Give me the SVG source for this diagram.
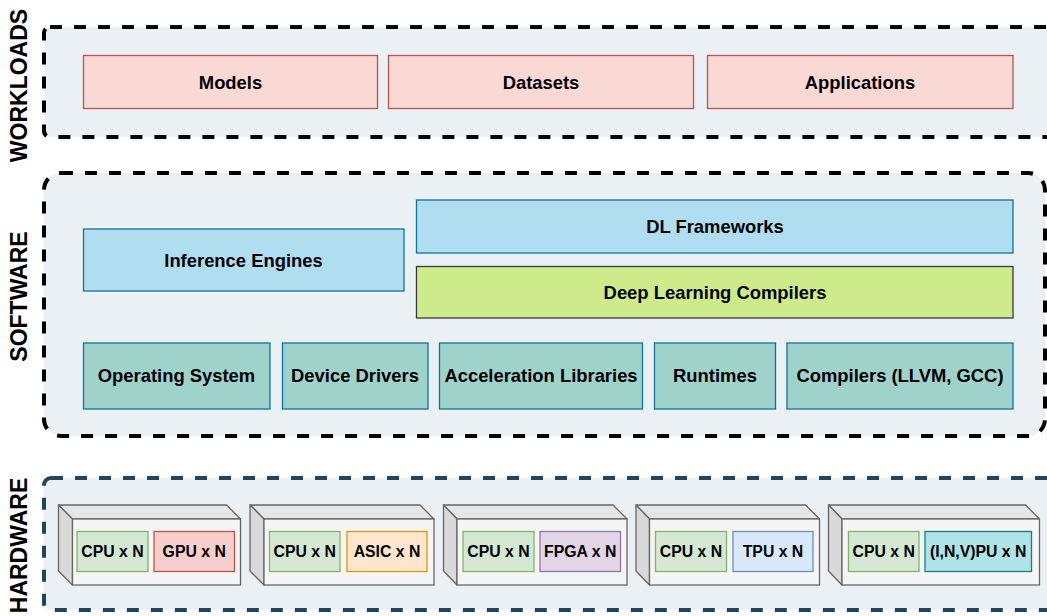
<svg xmlns="http://www.w3.org/2000/svg" width="1047" height="616" viewBox="0 0 1047 616">
  <style>
    text { font-family: "Liberation Sans", Arial, sans-serif; font-weight: bold; fill: #000; }
    .layer { fill: #ebf0f5; stroke: #000; stroke-width: 4; stroke-dasharray: 12 12; }
    .layer-hw { fill: #ebf0f5; stroke: #23445d; stroke-width: 4; stroke-dasharray: 12 12; }
    .title { font-size: 23px; text-anchor: middle; }
    .lbl { font-size: 18.4px; text-anchor: middle; }
    .hwl { font-size: 15.8px; text-anchor: middle; }
    .red { fill: #fad9d5; stroke: #b85450; stroke-width: 1.3; }
    .blue { fill: #b1ddf0; stroke: #10739e; stroke-width: 1.3; }
    .lime { fill: #cdeb8b; stroke: #36393d; stroke-width: 1.3; }
    .teal { fill: #a0d2cc; stroke: #10739e; stroke-width: 1.3; }
    .cube-front { fill: #f5f5f5; stroke: #666; stroke-width: 1.3; }
    .cube-top { fill: #e6e6e6; stroke: #666; stroke-width: 1.3; stroke-linejoin: round; }
    .cube-side { fill: #d9d9d9; stroke: #666; stroke-width: 1.3; stroke-linejoin: round; }
    .cpu { fill: #d5e8d4; stroke: #82b366; stroke-width: 1.3; }
    .gpu { fill: #f8cecc; stroke: #b85450; stroke-width: 1.3; }
    .asic { fill: #ffe6cc; stroke: #d79b00; stroke-width: 1.3; }
    .fpga { fill: #e1d5e7; stroke: #9673a6; stroke-width: 1.3; }
    .tpu { fill: #dae8fc; stroke: #6c8ebf; stroke-width: 1.3; }
    .xpu { fill: #b0e3e6; stroke: #0e8088; stroke-width: 1.3; }
  </style>

  <!-- Layer containers -->
  <g id="layer-workloads">
    <rect class="layer" x="44" y="27" width="1020" height="110" rx="6"/>
    <text class="title" transform="translate(27,85.5) rotate(-90)">WORKLOADS</text>
  </g>
  <g id="layer-software">
    <rect class="layer" x="44" y="173" width="1001" height="263" rx="17"/>
    <text class="title" transform="translate(27,296.5) rotate(-90)">SOFTWARE</text>
  </g>
  <g id="layer-hardware">
    <rect class="layer-hw" x="44" y="478" width="1020" height="132" rx="7"/>
    <text class="title" transform="translate(27,545.5) rotate(-90)">HARDWARE</text>
  </g>

  <!-- Workloads -->
  <g id="models">
    <rect class="red" x="83.5" y="55.5" width="294" height="53"/>
    <text class="lbl" x="230.5" y="88.5">Models</text>
  </g>
  <g id="datasets">
    <rect class="red" x="388.5" y="55.5" width="305" height="53"/>
    <text class="lbl" x="541" y="88.5">Datasets</text>
  </g>
  <g id="applications">
    <rect class="red" x="707.5" y="55.5" width="305.5" height="53"/>
    <text class="lbl" x="860" y="88.5">Applications</text>
  </g>

  <!-- Software -->
  <g id="inference-engines">
    <rect class="blue" x="83.5" y="229" width="320.5" height="62"/>
    <text class="lbl" x="243.5" y="266.5">Inference Engines</text>
  </g>
  <g id="dl-frameworks">
    <rect class="blue" x="416.5" y="200" width="596.5" height="53"/>
    <text class="lbl" x="715" y="232.5">DL Frameworks</text>
  </g>
  <g id="dl-compilers">
    <rect class="lime" x="416.5" y="266.5" width="596.5" height="51.5"/>
    <text class="lbl" x="715" y="298.5">Deep Learning Compilers</text>
  </g>
  <g id="operating-system">
    <rect class="teal" x="83.5" y="343" width="186.5" height="66"/>
    <text class="lbl" x="176.5" y="382">Operating System</text>
  </g>
  <g id="device-drivers">
    <rect class="teal" x="282.5" y="343" width="145.5" height="66"/>
    <text class="lbl" x="355" y="382">Device Drivers</text>
  </g>
  <g id="acceleration-libraries">
    <rect class="teal" x="439.5" y="343" width="203" height="66"/>
    <text class="lbl" x="541" y="382">Acceleration Libraries</text>
  </g>
  <g id="runtimes">
    <rect class="teal" x="654.5" y="343" width="121" height="66"/>
    <text class="lbl" x="715" y="382">Runtimes</text>
  </g>
  <g id="compilers">
    <rect class="teal" x="787" y="343" width="226" height="66"/>
    <text class="lbl" x="900" y="382">Compilers (LLVM, GCC)</text>
  </g>

  <!-- Hardware nodes: each a cube holding a CPU box and an accelerator box -->
  <g id="node-gpu">
    <polygon class="cube-top" points="58.5,505 226.5,505 240.5,519 72.5,519"/>
    <polygon class="cube-side" points="58.5,505 72.5,519 72.5,585 58.5,571"/>
    <rect class="cube-front" x="72.5" y="519" width="168" height="66"/>
    <rect class="cpu" x="77" y="531.5" width="71" height="40"/>
    <text class="hwl" x="112.5" y="557">CPU x N</text>
    <rect class="gpu" x="154" y="531.5" width="80.5" height="40"/>
    <text class="hwl" x="194.2" y="557">GPU x N</text>
  </g>
  <g id="node-asic">
    <polygon class="cube-top" points="250,505 420,505 434,519 264,519"/>
    <polygon class="cube-side" points="250,505 264,519 264,585 250,571"/>
    <rect class="cube-front" x="264" y="519" width="170" height="66"/>
    <rect class="cpu" x="269.5" y="531.5" width="70.5" height="40"/>
    <text class="hwl" x="304.7" y="557">CPU x N</text>
    <rect class="asic" x="347" y="531.5" width="80" height="40"/>
    <text class="hwl" x="387" y="557">ASIC x N</text>
  </g>
  <g id="node-fpga">
    <polygon class="cube-top" points="443.5,505 613,505 627,519 457,519"/>
    <polygon class="cube-side" points="443.5,505 457,519 457,585 443.5,571"/>
    <rect class="cube-front" x="457" y="519" width="170" height="66"/>
    <rect class="cpu" x="463" y="531.5" width="71" height="40"/>
    <text class="hwl" x="498.5" y="557">CPU x N</text>
    <rect class="fpga" x="540" y="531.5" width="80.5" height="40"/>
    <text class="hwl" x="580.2" y="557">FPGA x N</text>
  </g>
  <g id="node-tpu">
    <polygon class="cube-top" points="636,505 805.5,505 819.5,519 649.5,519"/>
    <polygon class="cube-side" points="636,505 649.5,519 649.5,585 636,571"/>
    <rect class="cube-front" x="649.5" y="519" width="170" height="66"/>
    <rect class="cpu" x="655.5" y="531.5" width="71" height="40"/>
    <text class="hwl" x="691" y="557">CPU x N</text>
    <rect class="tpu" x="733" y="531.5" width="80" height="40"/>
    <text class="hwl" x="773" y="557">TPU x N</text>
  </g>
  <g id="node-xpu">
    <polygon class="cube-top" points="828.5,505 1025.5,505 1039.5,519 842,519"/>
    <polygon class="cube-side" points="828.5,505 842,519 842,585 828.5,571"/>
    <rect class="cube-front" x="842" y="519" width="197.5" height="66"/>
    <rect class="cpu" x="848.5" y="531.5" width="70.5" height="40"/>
    <text class="hwl" x="883.7" y="557">CPU x N</text>
    <rect class="xpu" x="925" y="531.5" width="106.5" height="40"/>
    <text class="hwl" x="978.2" y="557">(I,N,V)PU x N</text>
  </g>

  <!-- No connectors in this stack diagram -->
  <g id="connectors"/>
</svg>
